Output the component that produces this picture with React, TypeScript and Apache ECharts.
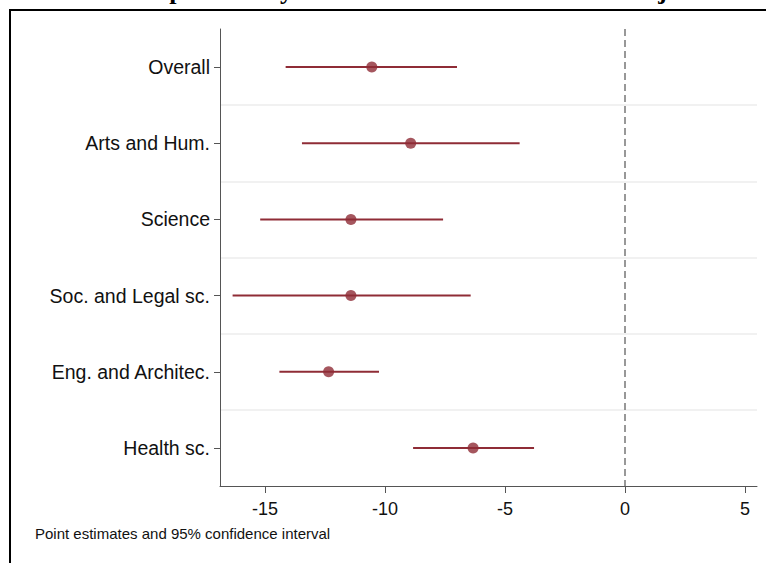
import React, { useEffect, useRef } from "react";
import * as echarts from "echarts";

const categories = [
  "Overall",
  "Arts and Hum.",
  "Science",
  "Soc. and Legal sc.",
  "Eng. and Architec.",
  "Health sc.",
];
const estimates = [-10.55, -8.93, -11.42, -11.42, -12.35, -6.33];
const ciLow = [-14.14, -13.46, -15.2, -16.35, -14.4, -8.83];
const ciHigh = [-7.0, -4.39, -7.58, -6.43, -10.25, -3.79];
const xTicks = [-15, -10, -5, 0, 5];
const titleText = "the probability of over-education in the current job";
const noteText = "Point estimates and 95% confidence interval";

const COLOR = "#8f2c36";
const FONT = "'Liberation Sans', Arial, sans-serif";

export default function App() {
  const ref = useRef<HTMLDivElement>(null);
  useEffect(() => {
    if (!ref.current) return;
    const chart = echarts.init(ref.current, null, { renderer: "svg" });
    const ciData = categories.map((_, i) => [i, ciLow[i], ciHigh[i]]);
    const ptData = categories.map((_, i) => [estimates[i], i]);
    chart.setOption({
      animation: false,
      backgroundColor: "#ffffff",
      grid: { left: 220, top: 29, width: 537, height: 457, containLabel: false },
      xAxis: {
        type: "value",
        min: -16.875,
        max: 5.5,
        axisLine: { show: true, onZero: false, lineStyle: { color: "#555", width: 1 } },
        axisTick: { show: true, customValues: xTicks, length: 7, lineStyle: { color: "#555" } },
        axisLabel: {
          customValues: xTicks,
          fontSize: 18,
          color: "#111",
          fontFamily: FONT,
          margin: 14,
        },
        splitLine: { show: false },
      },
      yAxis: {
        type: "category",
        inverse: true,
        data: categories,
        axisLine: { show: true, onZero: false, lineStyle: { color: "#555", width: 1 } },
        axisTick: { show: true, alignWithLabel: true, length: 6, lineStyle: { color: "#555" } },
        axisLabel: { fontSize: 19.5, color: "#111", fontFamily: FONT, margin: 10 },
        splitLine: {
          show: true,
          showMinLine: false,
          showMaxLine: false,
          lineStyle: { color: "#ececec", width: 1.5 },
        },
      },
      series: [
        {
          type: "custom",
          data: ciData,
          encode: { x: [1, 2], y: 0 },
          renderItem: (params: any, api: any) => {
            const lo = api.coord([api.value(1), api.value(0)]);
            const hi = api.coord([api.value(2), api.value(0)]);
            return {
              type: "line",
              shape: { x1: lo[0], y1: lo[1], x2: hi[0], y2: hi[1] },
              style: { stroke: COLOR, lineWidth: 2 },
            };
          },
          z: 2,
        },
        {
          type: "scatter",
          data: ptData,
          symbol: "circle",
          symbolSize: 11,
          itemStyle: { color: COLOR },
          z: 3,
          markLine: {
            silent: true,
            symbol: "none",
            label: { show: false },
            lineStyle: { color: "#777", type: [7, 4], width: 1.5 },
            data: [{ xAxis: 0 }],
          },
        },
      ],
      graphic: [
        {
          type: "rect",
          shape: { x: 10, y: 10, width: 800, height: 600 },
          style: { fill: "none", stroke: "#000", lineWidth: 2 },
          z: 10,
        },
        {
          type: "text",
          x: 128,
          y: 3,
          style: {
            text: titleText,
            font: "bold 26px 'Liberation Serif', 'Times New Roman', serif",
            fill: "#000",
            verticalAlign: "bottom",
            align: "left",
          },
          z: 10,
        },
        {
          type: "text",
          x: 35,
          y: 533,
          style: {
            text: noteText,
            font: "15px " + FONT,
            fill: "#111",
            verticalAlign: "middle",
            align: "left",
          },
        },
      ],
    });
    return () => chart.dispose();
  }, []);
  return (
    <div
      ref={ref}
      style={{ position: "fixed", left: 0, top: 0, width: 766, height: 563 }}
    />
  );
}
